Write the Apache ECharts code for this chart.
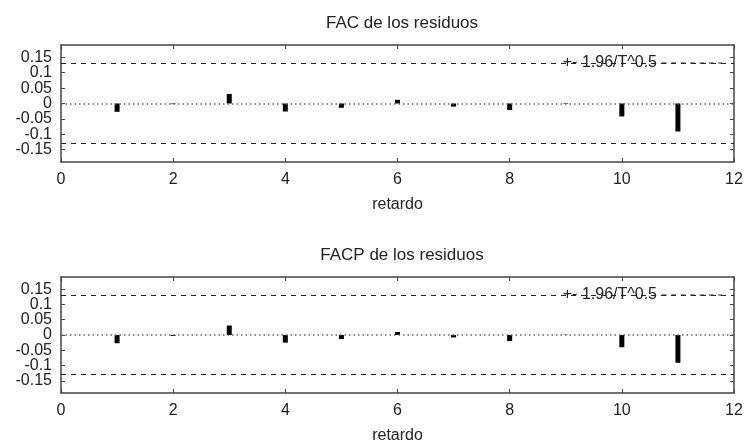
<!DOCTYPE html>
<html><head><meta charset="utf-8">
<script src="https://cdn.jsdelivr.net/npm/echarts@6/dist/echarts.min.js"></script>
<style>html,body{margin:0;padding:0;background:#fff}#c{width:749px;height:446px}</style>
</head><body><div id="c"></div>
<script>
const lags = [1,2,3,4,5,6,7,8,9,10,11];
const facVals  = [-0.027,-0.002,0.031,-0.026,-0.014,0.012,-0.010,-0.021,0.002,-0.042,-0.091];
const facpVals = [-0.027,-0.003,0.031,-0.025,-0.013,0.010,-0.008,-0.020,0.001,-0.040,-0.091];
const band = 0.1336;
const yTicks = [-0.15,-0.1,-0.05,0,0.05,0.1,0.15];
const yLabelsA = [-0.15,-0.05,0.05,0.15];
const yLabelsB = [-0.1,0,0.1];
const titles = ['FAC de los residuos','FACP de los residuos'];
const xName = 'retardo';
const bandName = '+- 1.96/T^0.5';

const FONT = 'Liberation Sans, Arial, sans-serif';
const TXT = '#222';
const FRAME = '#444';
const grids = [
  {left:61, right:15, top:45, height:117},
  {left:61, right:15, top:277, height:116}
];
const dashIcon = 'path://M0,0h5v1h-5zM10,0h5v1h-5zM20,0h5v1h-5zM30,0h5v1h-5zM40,0h5v1h-5zM50,0h5v1h-5zM60,0h4v1h-4z';
const xAxes = [], yAxes = [], series = [], titleArr = [], legends = [];
const fmt = v => String(Math.round(v*100)/100);
[facVals, facpVals].forEach((vals, i) => {
  titleArr.push({text:titles[i], left:397, textAlign:'center', top: i===0 ? 10 : 242,
    textStyle:{fontFamily:FONT, fontSize:17, fontWeight:'normal', color:TXT}});
  const baseX = {gridIndex:i, type:'value', min:0, max:12, interval:2,
    splitLine:{show:false},
    axisLine:{show:true, onZero:false, lineStyle:{color:FRAME, width:1.5}},
    axisTick:{show:true, inside:true, length:4, lineStyle:{color:FRAME}}};
  xAxes.push(Object.assign({}, baseX, {position:'bottom',
    name:xName, nameLocation:'middle', nameGap:35,
    nameTextStyle:{fontFamily:FONT, fontSize:16, color:TXT, verticalAlign:'top'},
    axisLabel:{fontFamily:FONT, fontSize:16, color:TXT, margin:10}}));
  xAxes.push(Object.assign({}, baseX, {position:'top', axisLabel:{show:false}}));
  const baseY = {gridIndex:i, type:'value', min:-0.19, max:0.19,
    splitLine:{show:false},
    axisLine:{show:true, onZero:false, lineStyle:{color:FRAME, width:1.5}},
    axisTick:{show:true, inside:true, length:4, lineStyle:{color:FRAME}, customValues:yTicks}};
  yAxes.push(Object.assign({}, baseY, {position:'left',
    axisLabel:{fontFamily:FONT, fontSize:16, color:TXT, margin:9, customValues:yLabelsA, formatter:fmt}}));
  yAxes.push(Object.assign({}, baseY, {position:'right', axisLabel:{show:false}}));
  yAxes.push(Object.assign({}, baseY, {position:'left', offset:0,
    axisLine:{show:false}, axisTick:{show:false},
    axisLabel:{fontFamily:FONT, fontSize:16, color:TXT, margin:9, customValues:yLabelsB, formatter:fmt}}));
  series.push({type:'line', name:bandName, xAxisIndex:2*i, yAxisIndex:3*i, data:[],
    symbol:'none', lineStyle:{color:'#222', type:[5,5], width:1},
    itemStyle:{color:'#222'},
    markLine:{silent:true, symbol:'none', label:{show:false},
      lineStyle:{color:'#222', type:[5,5], width:1},
      data:[{yAxis:band},{yAxis:-band}]}});
  series.push({type:'line', name:'zero', xAxisIndex:2*i, yAxisIndex:3*i, data:[],
    markLine:{silent:true, symbol:'none', label:{show:false},
      lineStyle:{color:'#666', type:[1.5,3], width:1.5},
      data:[{yAxis:0}]}});
  series.push({type:'bar', name:'vals'+i, xAxisIndex:2*i, yAxisIndex:3*i,
    barWidth:5, itemStyle:{color:'#000'},
    data: lags.map((l,k)=>[l, vals[k]])});
  legends.push({data:[{name:bandName, icon:dashIcon}], right:27, top: i===0 ? 55 : 287,
    padding:0, align:'right', itemWidth:60, itemHeight:1, itemGap:0,
    itemStyle:{color:'#222', borderWidth:0},
    textStyle:{fontFamily:FONT, fontSize:16, color:TXT}, selectedMode:false});
});
const chart = echarts.init(document.getElementById('c'), null, {renderer:'canvas'});
chart.setOption({
  animation:false,
  title:titleArr,
  grid:grids,
  xAxis:xAxes,
  yAxis:yAxes,
  legend:legends,
  series:series
});
</script></body></html>
